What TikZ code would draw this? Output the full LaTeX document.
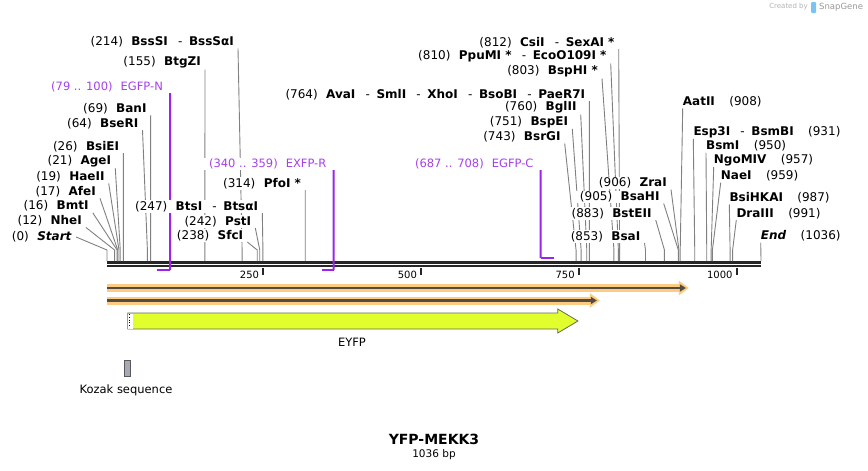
\documentclass[tikz,border=0pt]{standalone}
\usepackage{fontspec}
\setmainfont{DejaVu Sans}
\usetikzlibrary{arrows.meta}

\definecolor{cutgray}{RGB}{128,128,128}
\definecolor{mapblack}{RGB}{38,38,38}
\definecolor{primerpurple}{RGB}{155,35,235}
\definecolor{labelpurple}{RGB}{165,65,235}
\definecolor{orfhalo}{RGB}{252,204,130}
\definecolor{orfline}{RGB}{85,75,65}
\definecolor{eyfpfill}{RGB}{224,255,45}
\definecolor{eyfpedge}{RGB}{105,105,85}
\definecolor{kozakfill}{RGB}{166,170,178}
\definecolor{snapblue}{RGB}{125,195,240}
\definecolor{creditgray}{RGB}{180,180,180}

\pgfdeclarelayer{back}
\pgfsetlayers{back,main}

\newcommand{\lgap}{\hspace{0.7em}}
\newcommand{\rgap}{\hspace{1.2em}}
\newcommand{\enzsep}{\hspace{0.85em}-\hspace{0.55em}}

\begin{document}
\begin{tikzpicture}[x=1pt, y=-1pt,
    every node/.style={font=\fontsize{12}{14}\selectfont, inner xsep=4pt, inner ysep=1pt},
    lft/.style={anchor=south east, fill=white},
    rgt/.style={anchor=south west, fill=white, inner xsep=0pt},
    primer/.style={lft, text=labelpurple, inner xsep=7pt, font=\fontsize{11.5}{13}\selectfont},
    cut/.style={cutgray, line width=0.9pt},
    primerline/.style={primerpurple, line width=2pt},
    mapline/.style={mapblack},
    ticklbl/.style={anchor=east, font=\fontsize{10}{12}\selectfont, inner sep=0pt},
    orfband/.style={orfhalo, line width=8pt, -{Triangle[length=10pt,width=14pt]}},
    orfarrow/.style={orfline, line width=2.2pt, -{Triangle[length=6pt,width=7pt]}}]
      \useasboundingbox (0,0) rectangle (868,471);
      \begin{scope}[xshift=107pt, x=0.6313pt]
        \coordinate (s0) at (0,261); \coordinate (s12) at (12,261); \coordinate (s16) at (16,261);
        \coordinate (s17) at (17,261); \coordinate (s19) at (19,261); \coordinate (s21) at (21,261);
        \coordinate (s26) at (26,261); \coordinate (s64) at (64,261); \coordinate (s69) at (69,261);
        \coordinate (s155) at (155,261); \coordinate (s214) at (214,261); \coordinate (s238) at (238,261);
        \coordinate (s242) at (242,261); \coordinate (s247) at (247,261); \coordinate (s314) at (314,261);
        \coordinate (s743) at (743,261); \coordinate (s751) at (751,261); \coordinate (s760) at (760,261);
        \coordinate (s764) at (764,261); \coordinate (s803) at (803,261); \coordinate (s810) at (810,261);
        \coordinate (s812) at (812,261); \coordinate (s853) at (853,261); \coordinate (s883) at (883,261);
        \coordinate (s905) at (905,261); \coordinate (s906) at (906,261); \coordinate (s908) at (908,261);
        \coordinate (s931) at (931,261); \coordinate (s950) at (950,261); \coordinate (s957) at (957,261);
        \coordinate (s959) at (959,261); \coordinate (s987) at (987,261); \coordinate (s991) at (991,261);
        \coordinate (s1036) at (1036,261);
        \coordinate (p79) at (79,270); \coordinate (p100) at (100,270);
        \coordinate (p340) at (340,270); \coordinate (p359) at (359,270);
        \coordinate (p687) at (687,258); \coordinate (p708) at (708,258);
        \coordinate (t250) at (247.5,268); \coordinate (t500) at (497.5,268);
        \coordinate (t750) at (747.5,268); \coordinate (t1000) at (997.5,268);
        \coordinate (orfa) at (0,288); \coordinate (orfb) at (917,288);
        \coordinate (orfc) at (0,300.5); \coordinate (orfd) at (776,300.5);
        \draw[eyfpedge, fill=eyfpfill, line width=0.8pt] (33,313) -- (714,313) -- (714,309)
          -- (746,321) -- (714,333) -- (714,329) -- (33,329) -- cycle;
        \fill[white] (33.6,313.5) rectangle (41,328.5);
        \draw[black, dotted, line width=0.8pt] (36,314) -- (36,328);
        \draw[black!65, fill=kozakfill, line width=0.8pt] (27.4,360.5) rectangle (37.8,376.5);
      \end{scope}

      \node[lft] (BssSI) at (238,48.5) {(214)\lgap\textbf{BssSI}\enzsep\textbf{BssSαI}};
      \node[lft] (BtgZI) at (205,69.5) {(155)\lgap\textbf{BtgZI}};
      \node[primer] (EGFPN) at (170.1,93) {(79 .. 100)\lgap EGFP-N};
      \node[lft] (BanI) at (150.7,115) {(69)\lgap\textbf{BanI}};
      \node[lft] (BseRI) at (142.5,130) {(64)\lgap\textbf{BseRI}};
      \node[lft] (BsiEI) at (123.3,153) {(26)\lgap\textbf{BsiEI}};
      \node[lft] (AgeI) at (115.3,168.3) {(21)\lgap\textbf{AgeI}};
      \node[lft] (HaeII) at (108.7,183.3) {(19)\lgap\textbf{HaeII}};
      \node[lft] (AfeI) at (100,198.3) {(17)\lgap\textbf{AfeI}};
      \node[lft] (BmtI) at (92.7,212.7) {(16)\lgap\textbf{BmtI}};
      \node[lft] (NheI) at (86,227.5) {(12)\lgap\textbf{NheI}};
      \node[lft] (Start) at (76,243.5) {(0)\lgap\textbf{\textit{Start}}};
      \node[lft] (BtsI) at (262.3,213) {(247)\lgap\textbf{BtsI}\enzsep\textbf{BtsαI}};
      \node[lft] (PstI) at (255.3,228) {(242)\lgap\textbf{PstI}};
      \node[lft] (SfcI) at (247.3,242) {(238)\lgap\textbf{SfcI}};
      \node[lft] (PfoI) at (305.2,190) {(314)\lgap\textbf{PfoI *}};
      \node[primer] (EXFPR) at (333.6,170) {(340 .. 359)\lgap EXFP-R};
      \node[lft] (AvaI) at (589.3,101) {(764)\lgap\textbf{AvaI}\enzsep\textbf{SmlI}\enzsep\textbf{XhoI}\enzsep\textbf{BsoBI}\enzsep\textbf{PaeR7I}};
      \node[lft] (BglII) at (580.7,114.5) {(760)\lgap\textbf{BglII}};
      \node[lft] (BspEI) at (572.3,129) {(751)\lgap\textbf{BspEI}};
      \node[lft] (BsrGI) at (564.7,143.5) {(743)\lgap\textbf{BsrGI}};
      \node[lft] (CsiI) at (618.7,49) {(812)\lgap\textbf{CsiI}\enzsep\textbf{SexAI *}};
      \node[lft] (PpuMI) at (610.7,63.5) {(810)\lgap\textbf{PpuMI *}\enzsep\textbf{EcoO109I *}};
      \node[lft] (BspHI) at (602,78.5) {(803)\lgap\textbf{BspHI *}};
      \node[primer] (EGFPC) at (540.7,170) {(687 .. 708)\lgap EGFP-C};
      \node[lft] (ZraI) at (671,189.5) {(906)\lgap\textbf{ZraI}};
      \node[lft] (BsaHI) at (663.7,203.5) {(905)\lgap\textbf{BsaHI}};
      \node[lft] (BstEII) at (655.7,220) {(883)\lgap\textbf{BstEII}};
      \node[lft] (BsaI) at (644.5,243) {(853)\lgap\textbf{BsaI}};
      \node[rgt] (AatII) at (682.7,108.3) {\textbf{AatII}\rgap(908)};
      \node[rgt] (Esp3I) at (693.3,139) {\textbf{Esp3I}\enzsep\textbf{BsmBI}\rgap(931)};
      \node[rgt] (BsmI) at (706,152.7) {\textbf{BsmI}\rgap(950)};
      \node[rgt] (NgoMIV) at (713.7,167) {\textbf{NgoMIV}\rgap(957)};
      \node[rgt] (NaeI) at (720.7,182.7) {\textbf{NaeI}\rgap(959)};
      \node[rgt] (BsiHKAI) at (729.3,204.5) {\textbf{BsiHKAI}\rgap(987)};
      \node[rgt] (DraIII) at (736.3,220) {\textbf{DraIII}\rgap(991)};
      \node[rgt] (End) at (760.7,242.7) {\textbf{\textit{End}}\rgap(1036)};

      \begin{pgfonlayer}{back}
        \fill[white] (0,0) rectangle (868,471);
        \draw[mapline, line width=3pt] ([yshift=-1.2pt]s0) -- ([yshift=-1.2pt]s1036);
        \draw[mapline, line width=2.6pt] ([yshift=-5pt]s0) -- ([yshift=-5pt]s1036);
        \draw[cut] (BssSI.south east) -- ([yshift=11pt]s214) -- (s214);
        \draw[cut] (BtgZI.south east) -- ([yshift=11pt]s155) -- (s155);
        \draw[cut] (BanI.south east) -- ([yshift=11pt]s69) -- (s69);
        \draw[cut] (BseRI.south east) -- ([yshift=11pt]s64) -- (s64);
        \draw[cut] (BsiEI.south east) -- ([yshift=11pt]s26) -- (s26);
        \draw[cut] (AgeI.south east) -- ([yshift=11pt]s21) -- (s21);
        \draw[cut] (HaeII.south east) -- ([yshift=11pt]s19) -- (s19);
        \draw[cut] (AfeI.south east) -- ([yshift=11pt]s17) -- (s17);
        \draw[cut] (BmtI.south east) -- ([yshift=11pt]s16) -- (s16);
        \draw[cut] (NheI.south east) -- ([yshift=11pt]s12) -- (s12);
        \draw[cut] (Start.east) -- ([yshift=11pt]s0) -- (s0);
        \draw[cut] (BtsI.south east) -- ([yshift=11pt]s247) -- (s247);
        \draw[cut] (PstI.south east) -- ([yshift=11pt]s242) -- (s242);
        \draw[cut] (SfcI.south east) -- ([yshift=11pt]s238) -- (s238);
        \draw[cut] (PfoI.south east) -- ([yshift=11pt]s314) -- (s314);
        \draw[cut] (AvaI.south east) -- ([yshift=11pt]s764) -- (s764);
        \draw[cut] (BglII.south east) -- ([yshift=11pt]s760) -- (s760);
        \draw[cut] (BspEI.south east) -- ([yshift=11pt]s751) -- (s751);
        \draw[cut] (BsrGI.south east) -- ([yshift=11pt]s743) -- (s743);
        \draw[cut] (CsiI.south east) -- ([yshift=11pt]s812) -- (s812);
        \draw[cut] (PpuMI.south east) -- ([yshift=11pt]s810) -- (s810);
        \draw[cut] (BspHI.south east) -- ([yshift=11pt]s803) -- (s803);
        \draw[cut] (ZraI.south east) -- ([yshift=11pt]s906) -- (s906);
        \draw[cut] (BsaHI.south east) -- ([yshift=11pt]s905) -- (s905);
        \draw[cut] (BstEII.south east) -- ([yshift=11pt]s883) -- (s883);
        \draw[cut] (BsaI.south east) -- ([yshift=11pt]s853) -- (s853);
        \draw[cut] (AatII.south west) -- ([yshift=11pt]s908) -- (s908);
        \draw[cut] (Esp3I.south west) -- ([yshift=11pt]s931) -- (s931);
        \draw[cut] (BsmI.south west) -- ([yshift=11pt]s950) -- (s950);
        \draw[cut] (NgoMIV.south west) -- ([yshift=11pt]s957) -- (s957);
        \draw[cut] (NaeI.south west) -- ([yshift=11pt]s959) -- (s959);
        \draw[cut] (BsiHKAI.south west) -- ([yshift=11pt]s987) -- (s987);
        \draw[cut] (DraIII.south west) -- ([yshift=11pt]s991) -- (s991);
        \draw[cut] (End.south west) -- (s1036);
        \draw[primerline] (EGFPN.south east) -- (p100);
        \draw[primerline] (p79) -- (p100);
        \draw[primerline] (EXFPR.south east) -- (p359);
        \draw[primerline] (p340) -- (p359);
        \draw[primerline] (EGFPC.south east) -- (p687);
        \draw[primerline] (p687) -- (p708);
      \end{pgfonlayer}

      \draw[mapblack, line width=2pt] (t250) -- ++(0,7);
      \draw[mapblack, line width=2pt] (t500) -- ++(0,7);
      \draw[mapblack, line width=2pt] (t750) -- ++(0,7);
      \draw[mapblack, line width=2pt] (t1000) -- ++(0,7);
      \node[ticklbl] (n250) at ([shift={(-4,6.5)}]t250) {250};
      \node[ticklbl] (n500) at ([shift={(-4,6.5)}]t500) {500};
      \node[ticklbl] (n750) at ([shift={(-4,6.5)}]t750) {750};
      \node[ticklbl] (n1000) at ([shift={(-4,6.5)}]t1000) {1000};

      \draw[orfband] (orfa) -- ([xshift=3pt]orfb);
      \draw[orfarrow] (orfa) -- (orfb);
      \draw[orfband] (orfc) -- ([xshift=3pt]orfd);
      \draw[orfarrow] (orfc) -- (orfd);

      \node[font=\fontsize{11.5}{13}\selectfont] (EYFP) at (352,342) {EYFP};
      \node[font=\fontsize{11.5}{13}\selectfont] (Kozak) at (126,390) {Kozak sequence};
      \node[font=\fontsize{14}{16}\selectfont\bfseries] (title) at (434,439) {YFP-MEKK3};
      \node[font=\fontsize{10.5}{12}\selectfont] (length) at (434,455) {1036 bp};

      \node[anchor=east, text=creditgray, font=\fontsize{7}{8}\selectfont, inner sep=0pt] (credit) at (808,7) {Created by};
      \fill[snapblue, rounded corners=1pt] (811,2) rectangle (816,13);
      \node[anchor=west, text=creditgray!85!black, font=\fontsize{8.5}{10}\selectfont, inner sep=0pt] (brand) at (819,7) {SnapGene};
    \end{tikzpicture}
\end{document}
